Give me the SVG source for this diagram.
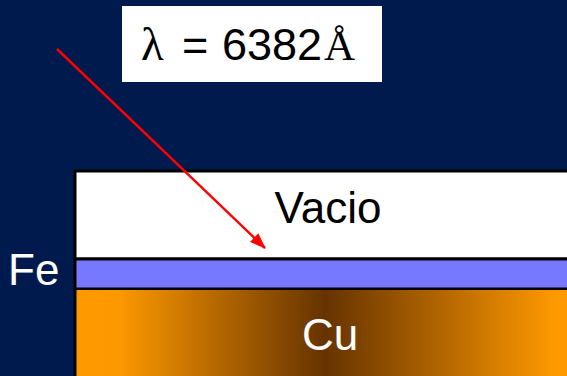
<svg xmlns="http://www.w3.org/2000/svg" width="567" height="376" viewBox="0 0 567 376">
<defs>
<style>
.sans{font-family:"Liberation Sans",Arial,sans-serif;}
.serif{font-family:"Liberation Serif","Times New Roman",serif;}
.lbl{font-size:44px;}
</style>
<linearGradient id="cu" gradientUnits="userSpaceOnUse" x1="75" y1="0" x2="567" y2="0">
<stop offset="0" stop-color="#ff9900"/>
<stop offset="0.09" stop-color="#fc9800"/>
<stop offset="0.508" stop-color="#663300"/>
<stop offset="0.98" stop-color="#ff9900"/>
<stop offset="1" stop-color="#ff9900"/>
</linearGradient>
<marker id="ah" markerWidth="16" markerHeight="12" refX="15" refY="6" orient="auto" markerUnits="userSpaceOnUse">
<path d="M0,0 L16,6 L0,12 Z" fill="#ff0000"/>
</marker>
</defs>
<rect width="567" height="376" fill="#001a4d"/>
<g id="label">
<rect x="122" y="6" width="260" height="76" fill="#ffffff"/>
<text y="60" fill="#000"><tspan x="141" class="serif" font-size="47">λ</tspan><tspan x="182" class="sans" font-size="45">=</tspan><tspan x="222" class="sans" font-size="45">6382</tspan><tspan x="324" class="serif" font-size="43">Å</tspan></text>
</g>
<g id="vacio">
<rect x="75" y="171" width="500" height="88" fill="#ffffff" stroke="#000" stroke-width="3"/>
<text x="328" y="223" class="sans lbl" text-anchor="middle" fill="#000">Vacio</text>
</g>
<g id="fe">
<rect x="75" y="259" width="500" height="30" fill="#7878ff" stroke="#000" stroke-width="3"/>
<text x="8" y="285" class="sans lbl" fill="#ffffff">Fe</text>
</g>
<g id="cu-layer">
<rect x="75" y="290" width="500" height="90" fill="url(#cu)"/>
<line x1="75" y1="289" x2="75" y2="376" stroke="#000" stroke-width="3"/>
<text x="330" y="350" class="sans lbl" text-anchor="middle" fill="#ffffff">Cu</text>
</g>
<g id="connectors">
<line x1="57" y1="49" x2="265" y2="248" stroke="#ff0000" stroke-width="2.5" marker-end="url(#ah)"/>
</g>
</svg>
